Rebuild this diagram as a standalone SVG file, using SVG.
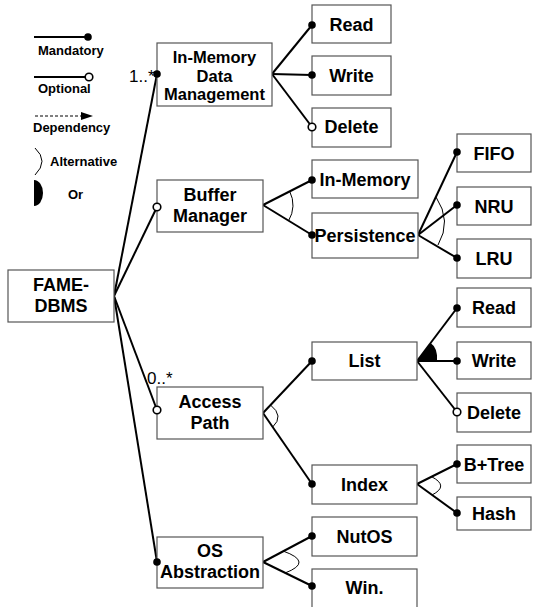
<svg xmlns="http://www.w3.org/2000/svg" width="533" height="607" viewBox="0 0 533 607">
<style>
.box{fill:#fff;stroke:#555;stroke-width:1.2}
.t{font-family:"Liberation Sans",Arial,sans-serif;font-weight:bold;font-size:18px;text-anchor:middle;fill:#000}
.s{font-size:16.5px}
.lg{font-family:"Liberation Sans",Arial,sans-serif;font-weight:bold;font-size:13px;fill:#000}
.m{font-family:"Liberation Sans",Arial,sans-serif;font-size:17px;fill:#000}
.c{stroke:#000;stroke-width:2;fill:none}
.arc{stroke:#000;stroke-width:1;fill:none}
.dot{fill:#000}
.odot{fill:#fff;stroke:#000;stroke-width:1.6}
</style>
<rect width="533" height="607" fill="#fff"/>
<g id="legend">
<line class="c" x1="34" y1="37" x2="88" y2="37"/><circle class="dot" cx="88" cy="37" r="3.8"/>
<text class="lg" x="38" y="55">Mandatory</text>
<line class="c" x1="34" y1="77" x2="85" y2="77"/><circle class="odot" cx="89" cy="77" r="3.8"/>
<text class="lg" x="38" y="93">Optional</text>
<line x1="35" y1="116" x2="84" y2="116" stroke="#000" stroke-width="1" stroke-dasharray="3,2"/>
<polygon points="81,112 93,116 81,120" fill="#000"/>
<text class="lg" x="33" y="132">Dependency</text>
<path class="arc" d="M35 148 Q49 161 35 175"/>
<text class="lg" x="50" y="166">Alternative</text>
<path d="M34 180 A9 13 0 0 1 34 206 Z" fill="#000"/>
<text class="lg" x="68" y="199">Or</text>
</g>
<g id="connectors">
<line class="c" x1="114" y1="296" x2="157" y2="74"/>
<line class="c" x1="114" y1="296" x2="157" y2="207"/>
<line class="c" x1="114" y1="296" x2="157" y2="410"/>
<line class="c" x1="114" y1="296" x2="157" y2="562"/>
<line class="c" x1="272" y1="74" x2="312" y2="25"/>
<line class="c" x1="272" y1="74" x2="312" y2="75"/>
<line class="c" x1="272" y1="74" x2="312" y2="127"/>
<line class="c" x1="263" y1="205" x2="312" y2="180"/>
<line class="c" x1="263" y1="205" x2="312" y2="235"/>
<path class="arc" d="M289.7 191.4 A30 30 0 0 1 288.6 220.7"/>
<line class="c" x1="418" y1="235" x2="457" y2="152"/>
<line class="c" x1="418" y1="235" x2="457" y2="205"/>
<line class="c" x1="418" y1="235" x2="457" y2="258"/>
<path class="arc" d="M436 197 Q452 221 438 245"/>
<line class="c" x1="263" y1="413" x2="312" y2="361"/>
<line class="c" x1="263" y1="413" x2="312" y2="484"/>
<path class="arc" d="M270.5 405 Q284.4 416 272.7 427"/>
<line class="c" x1="417" y1="361" x2="457" y2="308"/>
<line class="c" x1="417" y1="361" x2="457" y2="361"/>
<line class="c" x1="417" y1="361" x2="457" y2="412"/>
<path d="M417 361 L430.6 343 Q438 348 437 361 Z" fill="#000"/>
<line class="c" x1="417" y1="484" x2="457" y2="464"/>
<line class="c" x1="417" y1="484" x2="457" y2="513"/>
<path class="arc" d="M431.6 476.7 Q449.6 486 432 495"/>
<line class="c" x1="263" y1="562" x2="312" y2="536"/>
<line class="c" x1="263" y1="562" x2="312" y2="586"/>
<path class="arc" d="M283 551 Q314 562 285 573"/>
<text class="m" x="129" y="82">1..*</text>
<text class="m" x="147" y="384">0..*</text>
</g>
<g id="fame"><rect class="box" x="8" y="270" width="106" height="52"/><text class="t" x="61" y="291">FAME-</text><text class="t" x="61" y="312">DBMS</text></g>
<g id="imdm"><rect class="box" x="157" y="43" width="115" height="63"/><text class="t s" x="214.5" y="62.5">In-Memory</text><text class="t s" x="214.5" y="81.5">Data</text><text class="t s" x="214.5" y="100">Management</text></g>
<g id="read1"><rect class="box" x="312" y="5" width="79" height="38"/><text class="t" x="351.5" y="31">Read</text></g>
<g id="write1"><rect class="box" x="312" y="56" width="79" height="39"/><text class="t" x="351.5" y="82">Write</text></g>
<g id="delete1"><rect class="box" x="312" y="108" width="79" height="39"/><text class="t" x="351.5" y="133">Delete</text></g>
<g id="buffer"><rect class="box" x="157" y="180" width="106" height="52"/><text class="t" x="210" y="201">Buffer</text><text class="t" x="210" y="222">Manager</text></g>
<g id="inmem"><rect class="box" x="312" y="160" width="106" height="38"/><text class="t" x="365" y="186">In-Memory</text></g>
<g id="persist"><rect class="box" x="312" y="213" width="106" height="45"/><text class="t" x="365" y="242">Persistence</text></g>
<g id="fifo"><rect class="box" x="457" y="134" width="74" height="38"/><text class="t" x="494" y="160">FIFO</text></g>
<g id="nru"><rect class="box" x="457" y="187" width="74" height="38"/><text class="t" x="494" y="213">NRU</text></g>
<g id="lru"><rect class="box" x="457" y="239" width="74" height="39"/><text class="t" x="494" y="265">LRU</text></g>
<g id="access"><rect class="box" x="157" y="387" width="106" height="52"/><text class="t" x="210" y="408">Access</text><text class="t" x="210" y="429">Path</text></g>
<g id="list"><rect class="box" x="312" y="342" width="105" height="38"/><text class="t" x="364.5" y="367">List</text></g>
<g id="read2"><rect class="box" x="457" y="288" width="74" height="39"/><text class="t" x="494" y="314">Read</text></g>
<g id="write2"><rect class="box" x="457" y="342" width="74" height="37"/><text class="t" x="494" y="367">Write</text></g>
<g id="delete2"><rect class="box" x="457" y="393" width="74" height="39"/><text class="t" x="494" y="419">Delete</text></g>
<g id="index"><rect class="box" x="312" y="465" width="105" height="39"/><text class="t" x="364.5" y="491">Index</text></g>
<g id="btree"><rect class="box" x="457" y="445" width="74" height="38"/><text class="t" x="494" y="471">B+Tree</text></g>
<g id="hash"><rect class="box" x="457" y="497" width="74" height="33"/><text class="t" x="494" y="520">Hash</text></g>
<g id="os"><rect class="box" x="157" y="537" width="106" height="51"/><text class="t" x="210" y="557">OS</text><text class="t" x="210" y="578">Abstraction</text></g>
<g id="nutos"><rect class="box" x="312" y="517" width="105" height="39"/><text class="t" x="364.5" y="543">NutOS</text></g>
<g id="win"><rect class="box" x="312" y="569" width="105" height="42"/><text class="t" x="364.5" y="594">Win.</text></g>
<g id="ends">
<circle class="dot" cx="157" cy="74" r="3.8"/>
<circle class="odot" cx="157" cy="207" r="3.8"/>
<circle class="odot" cx="157" cy="410" r="3.8"/>
<circle class="dot" cx="157" cy="562" r="3.8"/>
<circle class="dot" cx="312" cy="25" r="3.8"/>
<circle class="dot" cx="312" cy="75" r="3.8"/>
<circle class="odot" cx="312" cy="127" r="3.8"/>
<circle class="dot" cx="312" cy="180" r="3.8"/>
<circle class="dot" cx="312" cy="235" r="3.8"/>
<circle class="dot" cx="457" cy="152" r="3.8"/>
<circle class="dot" cx="457" cy="205" r="3.8"/>
<circle class="dot" cx="457" cy="258" r="3.8"/>
<circle class="dot" cx="312" cy="361" r="3.8"/>
<circle class="dot" cx="312" cy="484" r="3.8"/>
<circle class="dot" cx="457" cy="308" r="3.8"/>
<circle class="dot" cx="457" cy="361" r="3.8"/>
<circle class="odot" cx="457" cy="412" r="3.8"/>
<circle class="dot" cx="457" cy="464" r="3.8"/>
<circle class="dot" cx="457" cy="513" r="3.8"/>
<circle class="dot" cx="312" cy="536" r="3.8"/>
<circle class="dot" cx="312" cy="586" r="3.8"/>
</g>
</svg>
